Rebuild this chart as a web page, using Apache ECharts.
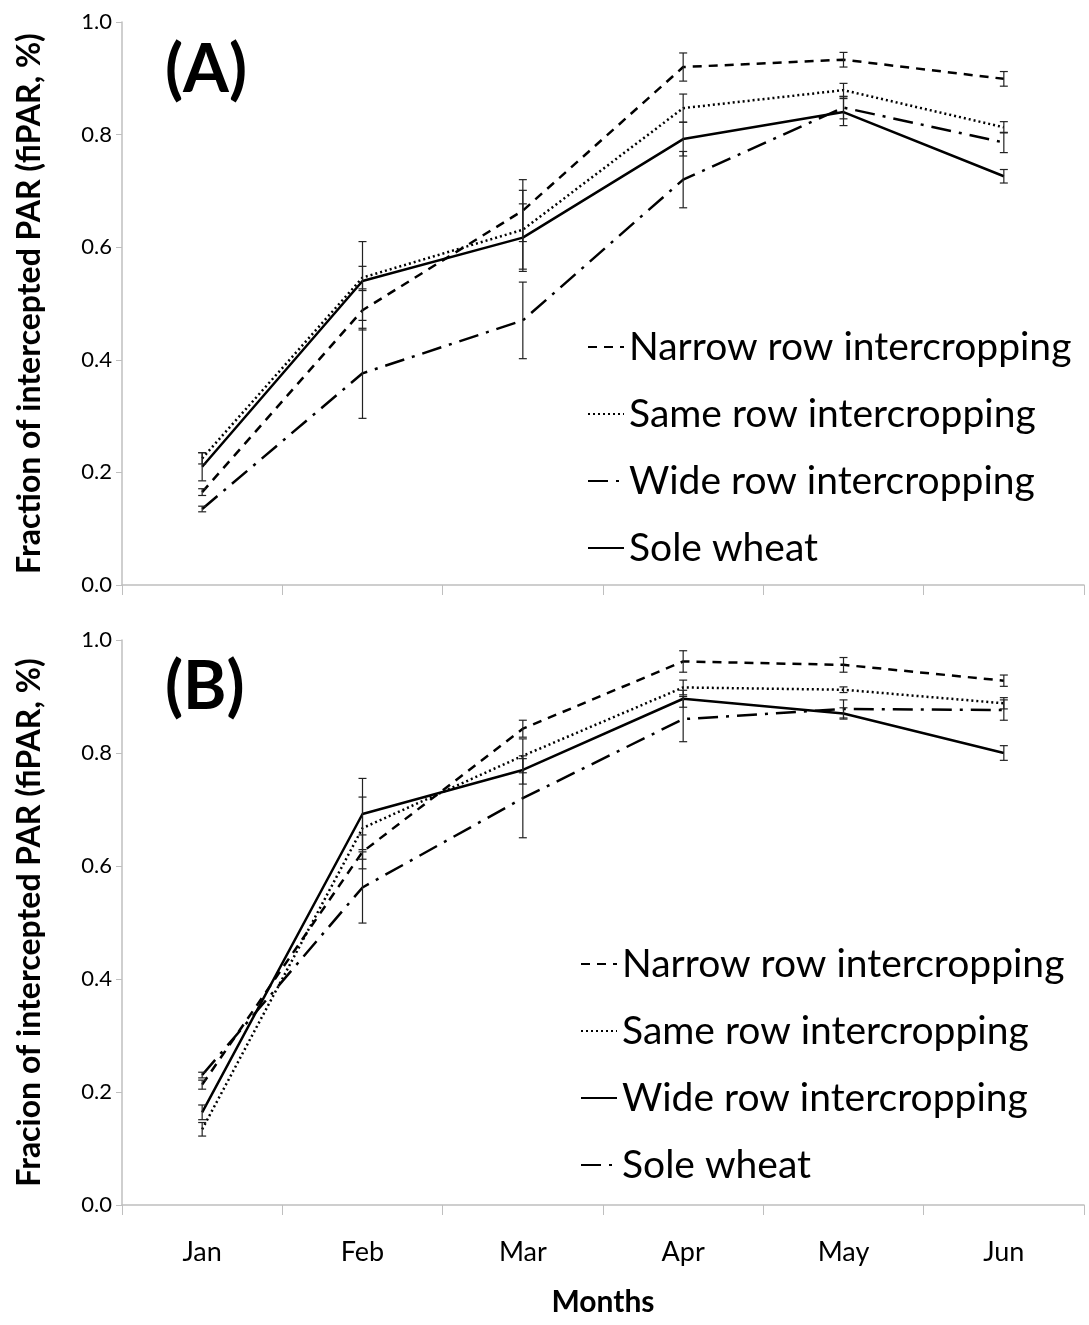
<!DOCTYPE html>
<html>
<head>
<meta charset="utf-8">
<script src="https://cdn.jsdelivr.net/npm/echarts@6/dist/echarts.min.js"></script>
<style>
  html, body { margin: 0; padding: 0; background: #fff; }
  #main { width: 1089px; height: 1325px; }
</style>
</head>
<body>
<div id="main"></div>
<script>
const months = ['Jan', 'Feb', 'Mar', 'Apr', 'May', 'Jun'];
const yTicks = [0, 0.2, 0.4, 0.6, 0.8, 1.0];

// panel A
const narrowA = [0.165, 0.488, 0.665, 0.920, 0.933, 0.899];
const narrowAErr = [0.006, 0.035, 0.055, 0.025, 0.013, 0.013];
const sameA = [0.225, 0.546, 0.631, 0.847, 0.879, 0.813];
const sameAErr = [0.010, 0.020, 0.070, 0.025, 0.012, 0.010];
const wideA = [0.135, 0.376, 0.470, 0.720, 0.848, 0.786];
const wideAErr = [0.005, 0.080, 0.068, 0.050, 0.020, 0.018];
const soleA = [0.210, 0.540, 0.617, 0.792, 0.840, 0.726];
const soleAErr = [0.025, 0.070, 0.060, 0.030, 0.024, 0.012];

// panel B
const narrowB = [0.213, 0.625, 0.843, 0.962, 0.956, 0.928];
const narrowBErr = [0.008, 0.030, 0.015, 0.019, 0.013, 0.010];
const sameB = [0.134, 0.667, 0.795, 0.916, 0.912, 0.888];
const sameBErr = [0.012, 0.055, 0.030, 0.013, 0.005, 0.010];
const wideB = [0.164, 0.692, 0.770, 0.896, 0.870, 0.800];
const wideBErr = [0.013, 0.063, 0.025, 0.015, 0.010, 0.013];
const soleB = [0.230, 0.562, 0.720, 0.860, 0.878, 0.876];
const soleBErr = [0.005, 0.063, 0.070, 0.040, 0.016, 0.018];

const FONT = 'Lato';
const DASHED = [9, 7];
const DOTTED = [2, 3];
const DASHDOT = [20, 8, 3, 8];

const chartDom = document.getElementById('main');
const myChart = echarts.init(chartDom);

function errData(vals, errs) {
    return vals.map((v, i) => [i, v, errs[i]]);
}

// whisker with caps, drawn from the axis scale
function renderErr(params, api) {
    const x = api.value(0), v = api.value(1), e = api.value(2);
    const top = api.coord([x, v + e]);
    const bot = api.coord([x, v - e]);
    const w = 4;
    const st = { stroke: '#222', lineWidth: 1.2 };
    return {
        type: 'group',
        children: [
            { type: 'line', shape: { x1: top[0], y1: top[1], x2: bot[0], y2: bot[1] }, style: st },
            { type: 'line', shape: { x1: top[0] - w, y1: top[1], x2: top[0] + w, y2: top[1] }, style: st },
            { type: 'line', shape: { x1: bot[0] - w, y1: bot[1], x2: bot[0] + w, y2: bot[1] }, style: st }
        ]
    };
}

function lineSeries(name, data, type, idx) {
    return {
        name: name,
        type: 'line',
        xAxisIndex: idx,
        yAxisIndex: idx,
        data: data,
        symbol: 'none',
        z: 3,
        itemStyle: { color: '#000' },
        lineStyle: { color: '#000', width: 2.5, type: type }
    };
}

function errSeries(vals, errs, idx) {
    return {
        type: 'custom',
        xAxisIndex: idx,
        yAxisIndex: idx,
        renderItem: renderErr,
        encode: { x: 0, y: 1 },
        data: errData(vals, errs),
        z: 4,
        silent: true
    };
}

const axisGray = '#bfbfbf';

function xAxis(idx, showLabel) {
    return {
        type: 'category',
        gridIndex: idx,
        data: months,
        boundaryGap: true,
        axisLine: { lineStyle: { color: axisGray, width: 1.5 } },
        axisTick: { show: true, length: 10, lineStyle: { color: axisGray } },
        axisLabel: { show: showLabel, color: '#000', fontFamily: FONT, fontSize: 27, margin: 34 },
        name: showLabel ? 'Months' : '',
        nameLocation: 'middle',
        nameGap: 82,
        nameTextStyle: { color: '#000', fontFamily: FONT, fontSize: 30, fontWeight: 'bold' }
    };
}

function yAxis(idx, title) {
    return {
        type: 'value',
        gridIndex: idx,
        min: yTicks[0],
        max: yTicks[yTicks.length - 1],
        interval: 0.2,
        splitLine: { show: false },
        axisLine: { show: true, lineStyle: { color: axisGray, width: 1.5 } },
        axisTick: { show: true, length: 6, lineStyle: { color: axisGray } },
        axisLabel: { color: '#000', fontFamily: FONT, fontSize: 22, margin: 10, formatter: v => v.toFixed(1) },
        name: title,
        nameLocation: 'middle',
        nameGap: 76,
        nameTextStyle: { color: '#000', fontFamily: FONT, fontSize: 32, fontWeight: 'bold' }
    };
}

function legend(top, left, names) {
    return {
        orient: 'vertical',
        top: top,
        left: left,
        itemWidth: 36,
        itemHeight: 20,
        itemGap: 25,
        data: names,
        formatter: n => n.slice(2),
        itemStyle: { opacity: 0 },
        textStyle: { color: '#000', fontFamily: FONT, fontSize: 39, lineHeight: 42 }
    };
}

const namesA = ['A:Narrow row intercropping', 'A:Same row intercropping', 'A:Wide row intercropping', 'A:Sole wheat'];
const namesB = ['B:Narrow row intercropping', 'B:Same row intercropping', 'B:Wide row intercropping', 'B:Sole wheat'];

const option = {
    backgroundColor: '#fff',
    animation: false,
    title: [
        { text: '(A)', left: 160, top: 33, textStyle: { fontFamily: FONT, fontSize: 66, fontWeight: 'bold', color: '#000' } },
        { text: '(B)', left: 160, top: 650, textStyle: { fontFamily: FONT, fontSize: 66, fontWeight: 'bold', color: '#000' } }
    ],
    grid: [
        { left: 122, top: 22, width: 962, height: 563 },
        { left: 122, top: 640, width: 962, height: 565 }
    ],
    xAxis: [xAxis(0, false), xAxis(1, true)],
    yAxis: [
        yAxis(0, 'Fraction of intercepted PAR (fiPAR, %)'),
        yAxis(1, 'Fracion of intercepted PAR (fiPAR, %)')
    ],
    legend: [
        legend(321, 582, namesA),
        legend(938, 575, namesB)
    ],
    series: [
        lineSeries(namesA[0], narrowA, DASHED, 0),
        lineSeries(namesA[1], sameA, DOTTED, 0),
        lineSeries(namesA[2], wideA, DASHDOT, 0),
        lineSeries(namesA[3], soleA, 'solid', 0),
        errSeries(narrowA, narrowAErr, 0),
        errSeries(sameA, sameAErr, 0),
        errSeries(wideA, wideAErr, 0),
        errSeries(soleA, soleAErr, 0),

        lineSeries(namesB[0], narrowB, DASHED, 1),
        lineSeries(namesB[1], sameB, DOTTED, 1),
        lineSeries(namesB[2], wideB, 'solid', 1),
        lineSeries(namesB[3], soleB, DASHDOT, 1),
        errSeries(narrowB, narrowBErr, 1),
        errSeries(sameB, sameBErr, 1),
        errSeries(wideB, wideBErr, 1),
        errSeries(soleB, soleBErr, 1)
    ]
};

option && myChart.setOption(option);
</script>
</body>
</html>
